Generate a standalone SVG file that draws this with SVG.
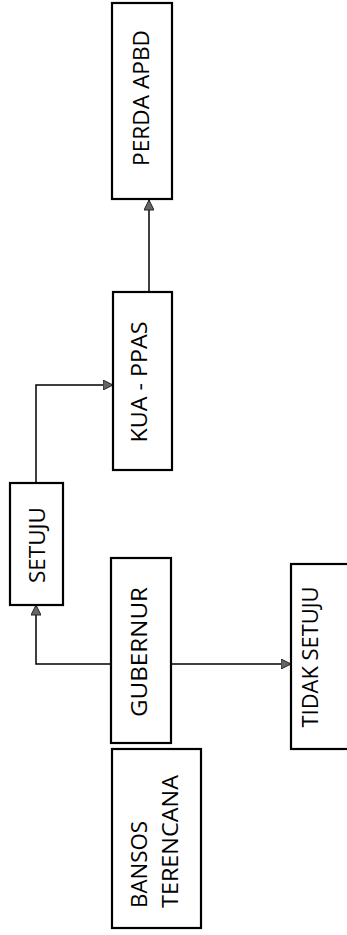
<svg xmlns="http://www.w3.org/2000/svg" width="347" height="935" viewBox="0 0 347 935">
<style>
.box{fill:none;stroke:#000;stroke-width:2.2}
.lbl{font-family:"Open Sans","Liberation Sans",sans-serif;font-size:21px;fill:#000}
.mid{text-anchor:middle}
.st{text-anchor:start}
.con{fill:none;stroke:#000;stroke-width:1.5}
</style>
<defs>
<marker id="ah" viewBox="0 0 10 10" refX="10" refY="5" markerWidth="11" markerHeight="10" markerUnits="userSpaceOnUse" orient="auto">
<path d="M0,0 L10,5 L0,10 Z" fill="#666" stroke="#222" stroke-width="1"/>
</marker>
</defs>
<rect width="347" height="935" fill="#fff"/>
<g id="connectors">
<path class="con" d="M111,664 H36 V605" marker-end="url(#ah)"/>
<path class="con" d="M36,483 V385 H113" marker-end="url(#ah)"/>
<path class="con" d="M149,292 V200" marker-end="url(#ah)"/>
<path class="con" d="M171,664 H291" marker-end="url(#ah)"/>
</g>
<g id="perda">
<rect class="box" x="112" y="3" width="60" height="196"/>
<text class="lbl mid" transform="translate(149,98) rotate(-90)" textLength="136" lengthAdjust="spacingAndGlyphs">PERDA APBD</text>
</g>
<g id="kua">
<rect class="box" x="113" y="292" width="59" height="178"/>
<text class="lbl mid" transform="translate(147,382) rotate(-90)" textLength="121" lengthAdjust="spacingAndGlyphs">KUA - PPAS</text>
</g>
<g id="setuju">
<rect class="box" x="10" y="483" width="53" height="122"/>
<text class="lbl mid" transform="translate(45,545) rotate(-90)" textLength="76" lengthAdjust="spacingAndGlyphs">SETUJU</text>
</g>
<g id="gubernur">
<rect class="box" x="111" y="558" width="60" height="185"/>
<text class="lbl mid" transform="translate(147,652) rotate(-90)" textLength="130" lengthAdjust="spacingAndGlyphs">GUBERNUR</text>
</g>
<g id="tidak">
<rect class="box" x="291" y="564" width="70" height="185"/>
<text class="lbl mid" transform="translate(318,657) rotate(-90)" textLength="141" lengthAdjust="spacingAndGlyphs">TIDAK SETUJU</text>
</g>
<g id="bansos">
<rect class="box" x="112" y="749" width="89" height="179"/>
<text class="lbl st" transform="translate(147,908) rotate(-90)" textLength="87" lengthAdjust="spacingAndGlyphs">BANSOS</text>
<text class="lbl st" transform="translate(178,908) rotate(-90)" textLength="133" lengthAdjust="spacingAndGlyphs">TERENCANA</text>
</g>
</svg>
